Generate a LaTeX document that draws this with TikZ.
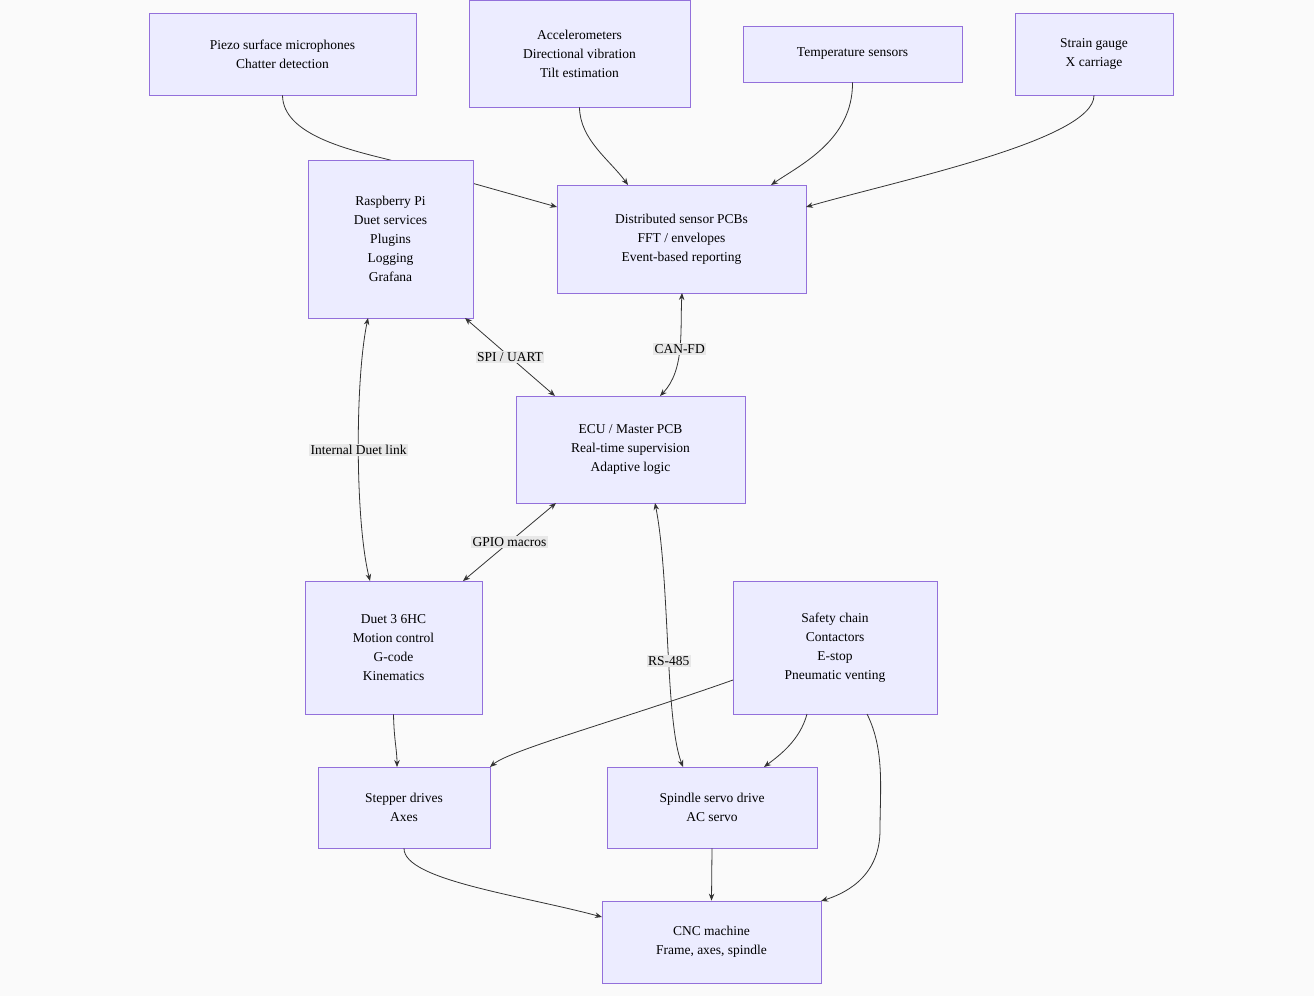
\documentclass[tikz,border=0pt]{standalone}
\usepackage{fontspec}
\setmainfont{Liberation Serif}
\usetikzlibrary{arrows.meta}
\definecolor{boxfill}{HTML}{ECECFF}
\definecolor{boxdraw}{HTML}{9370DB}
\definecolor{lbl}{HTML}{E8E8E8}
\definecolor{edge}{HTML}{333333}
\begin{document}
\begin{tikzpicture}[x=1pt,y=-1pt,
  box/.style={draw=boxdraw,fill=boxfill,line width=0.8pt,align=center,inner sep=0pt,
    font=\fontsize{13.5}{19}\selectfont},
  lab/.style={fill=lbl,inner sep=1.5pt,font=\fontsize{13.5}{16}\selectfont},
  e/.style={draw=edge,line width=0.8pt,-{Stealth[length=7pt,width=5.5pt]}},
  be/.style={e,{Stealth[length=7pt,width=5.5pt]}-{Stealth[length=7pt,width=5.5pt]}}]
\fill[white!98!black] (0,0) rectangle (1314,996);
\useasboundingbox (0,0) rectangle (1314,996);
\node[box,minimum width=267,minimum height=82] (piezo) at (282.5,54) {Piezo surface microphones\\Chatter detection};
\node[box,minimum width=221,minimum height=107] (acc) at (579.5,53.5) {Accelerometers\\Directional vibration\\Tilt estimation};
\node[box,minimum width=219,minimum height=56] (temp) at (852.5,54) {Temperature sensors};
\node[box,minimum width=158,minimum height=82] (strain) at (1094,54) {Strain gauge\\X carriage};
\node[box,minimum width=165,minimum height=158] (rpi) at (390.5,239) {Raspberry Pi\\Duet services\\Plugins\\Logging\\Grafana};
\node[box,minimum width=249,minimum height=108] (dist) at (681.5,239) {Distributed sensor PCBs\\FFT / envelopes\\Event-based reporting};
\node[box,minimum width=229,minimum height=107] (ecu) at (630.5,449.5) {ECU / Master PCB\\Real-time supervision\\Adaptive logic};
\node[box,minimum width=177,minimum height=133] (duet) at (393.5,647.5) {Duet 3 6HC\\Motion control\\G-code\\Kinematics};
\node[box,minimum width=204,minimum height=133] (safe) at (835,647.5) {Safety chain\\Contactors\\E-stop\\Pneumatic venting};
\node[box,minimum width=172,minimum height=81] (step) at (404,807.5) {Stepper drives\\Axes};
\node[box,minimum width=210,minimum height=81] (spin) at (712,807.5) {Spindle servo drive\\AC servo};
\node[box,minimum width=219,minimum height=82] (cnc) at (711.5,942) {CNC machine\\Frame, axes, spindle};

\begin{scope}[on background layer/.try]
\end{scope}
% piezo line goes behind rpi: draw first then redraw rpi
\draw[e] (piezo.south) .. controls (283,135) and (350,150) .. (390,160) -- (557,207);
\node[box,minimum width=165,minimum height=158] at (390.5,239) {Raspberry Pi\\Duet services\\Plugins\\Logging\\Grafana};
\draw[e] (acc.south) .. controls (580,140) and (610,160) .. (628,185);
\draw[e] (temp.south) .. controls (853,140) and (800,165) .. (771,185);
\draw[e] (strain.south) .. controls (1094,140) and (900,180) .. (806,207);
\draw[be] (465,318) -- node[lab,pos=0.5]{SPI / UART} (555,396);
\draw[be] (682,293) .. controls (680,330) and (685,370) .. node[lab,pos=0.5]{CAN-FD} (660,396);
\draw[be] (368,318) .. controls (355,380) and (355,520) .. node[lab,pos=0.5]{Internal Duet link} (370,581);
\draw[be] (556,503) -- node[lab,pos=0.5]{GPIO macros} (463,581);
\draw[be] (655,503) .. controls (670,580) and (665,720) .. node[lab,pos=0.55]{RS-485} (683,767);
\draw[e] (duet.south) .. controls (394,740) and (397,750) .. (397,767);
\draw[e] (733,680) .. controls (620,720) and (510,750) .. (490,767);
\draw[e] (807,714) .. controls (800,740) and (780,755) .. (764,767);
\draw[e] (867,714) .. controls (885,750) and (880,790) .. (880,830) .. controls (880,880) and (840,895) .. (821,901);
\draw[e] (step.south) .. controls (404,880) and (520,895) .. (602,917);
\draw[e] (spin.south) -- (cnc.north);
\end{tikzpicture}
\end{document}
